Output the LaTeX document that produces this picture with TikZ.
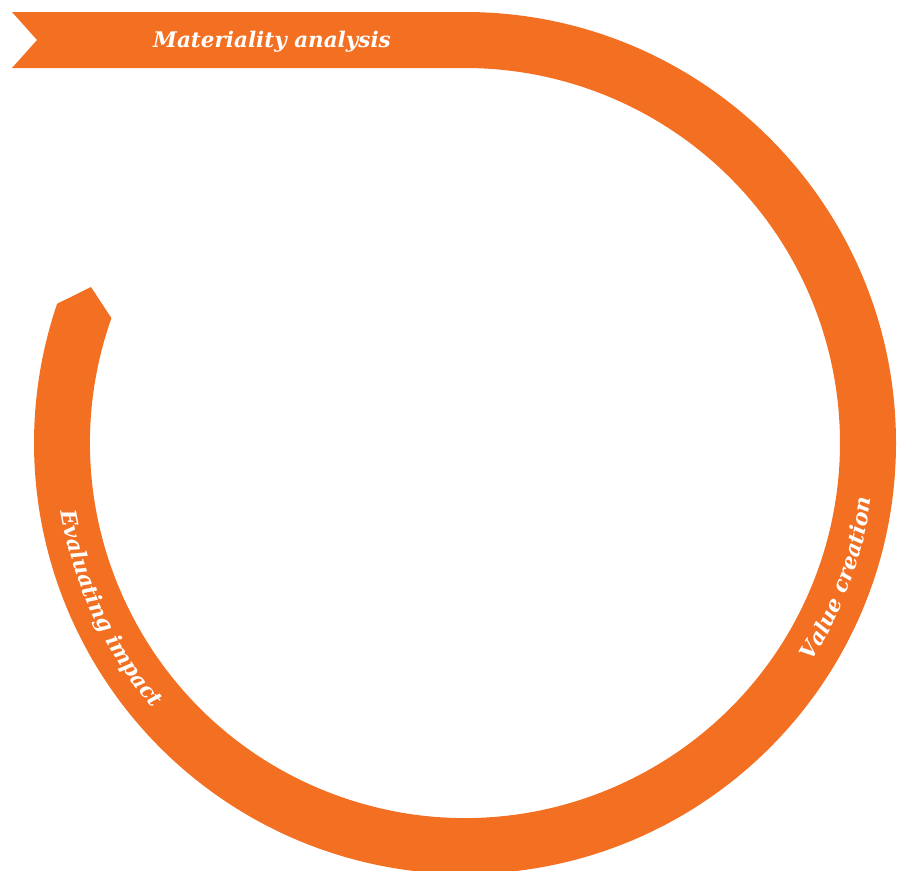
\documentclass[tikz,border=0pt]{standalone}
\usepackage{fontspec}
\setmainfont{DejaVu Serif}
\usetikzlibrary{decorations.text,calc}
\definecolor{bandorange}{RGB}{243,112,35}
\newcommand\lblstyle{\color{white}\bfseries\itshape\fontsize{21.5}{24}\selectfont}
\begin{document}
\begin{tikzpicture}[x=1pt,y=1pt,
  lbl/.style={text=white,font=\lblstyle,inner sep=0pt},
  curvedlbl/.style={decorate,decoration={text along path,text align=center,
     text format delimiters={|}{|},text={|\lblstyle|#1}}}]
\useasboundingbox (0,0) rectangle (904,-870);
\coordinate (C) at (465,-443);
\coordinate (tip) at (91,-287);
% band
\fill[bandorange] (12,-12) -- (465,-12)
  arc[start angle=90,end angle=-198.85,radius=431]
  -- (tip)
  -- ($(C)+(-199.45:375)$)
  arc[start angle=-199.45,end angle=90,radius=375]
  -- (12,-68) -- (37,-40) -- cycle;
% labels
\node[lbl,anchor=base] (mat) at (272,-47.5) {Materiality analysis};
\path[curvedlbl={Evaluating impact}] ($(C)+(175:410)$) arc[start angle=175,end angle=235,radius=410];
\path[curvedlbl={Value creation}] ($(C)+(-50:410)$) arc[start angle=-50,end angle=10,radius=410];
\end{tikzpicture}
\end{document}
